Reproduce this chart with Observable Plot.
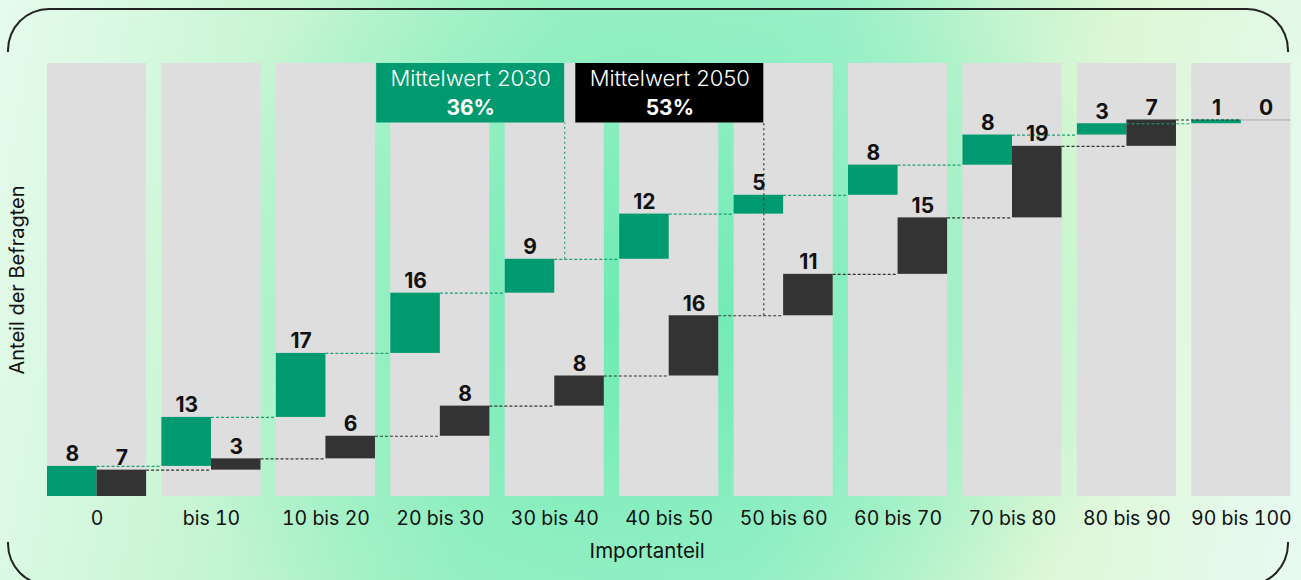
<!DOCTYPE html>
<html>
<head>
<meta charset="utf-8">
<script src="https://cdn.jsdelivr.net/npm/d3@7"></script>
<script src="https://cdn.jsdelivr.net/npm/@observablehq/plot@0.6"></script>
<style>
  html, body { margin: 0; padding: 0; }
  body {
    width: 1301px; height: 580px; overflow: hidden; position: relative;
    font-family: Inter, "Noto Sans", sans-serif;
    background:
      radial-gradient(ellipse 38% 75% at 50% 55%, rgba(104,234,178,0.95) 0%, rgba(125,237,188,0.6) 50%, rgba(170,240,200,0) 100%),
      linear-gradient(100deg, #e6fbec 0%, #c8f5d4 20%, #a0f0c4 40%, #a2f0ca 60%, #dcf7d4 80%, #e8faf2 100%);
  }
  .frame-top, .frame-bottom { position: absolute; box-sizing: border-box; border: 2px solid #222; }
  .frame-top { left: 7px; top: 8px; width: 1282px; height: 44px; border-bottom: none; border-radius: 42px 42px 0 0; }
  .frame-bottom { left: 7px; top: 542px; width: 1282px; height: 44px; border-top: none; border-radius: 0 0 42px 42px; }
  #chart { position: absolute; left: 0; top: 0; }
</style>
</head>
<body>
<div class="frame-top"></div>
<div class="frame-bottom"></div>
<div id="chart"></div>
<script>
// ---- data ----
const categories = ["0", "bis 10", "10 bis 20", "20 bis 30", "30 bis 40", "40 bis 50", "50 bis 60", "60 bis 70", "70 bis 80", "80 bis 90", "90 bis 100"];
const values2030 = [8, 13, 17, 16, 9, 12, 5, 8, 8, 3, 1];
const values2050 = [7, 3, 6, 8, 8, 16, 11, 15, 19, 7, 0];
const meanYears = ["2030", "2050"];
const meanValues = [36, 53];

// ---- layout helpers ----
const hw = 0.433;          // half band width (x units)
const bandTop = 115;       // height of grey background bands (y units)
const boxW = 1.643;        // width of mean label boxes (x units)
const boxBottom = 99.2;

const cumsum = arr => { let s = 0; return arr.map(v => (s += v)); };
const c30 = cumsum(values2030), c50 = cumsum(values2050);
const rows = categories.map((c, i) => ({
  i, c,
  v30: values2030[i], v50: values2050[i],
  lo30: c30[i] - values2030[i], hi30: c30[i],
  lo50: c50[i] - values2050[i], hi50: c50[i]
}));
const links = rows.slice(0, -1);
const means = meanYears.map((yr, k) => {
  const m = meanValues[k];
  const idx = Math.floor(m / 10) + 1;
  const frac = (m % 10) / 10;
  const x = idx - hw + frac * 2 * hw;
  const end = yr === "2030" ? c30[idx] : c50[idx - 1];
  return { yr, m, x, end, fill: yr === "2030" ? "#009a70" : "#000000", stroke: yr === "2030" ? "#1f9e78" : "#333333" };
});

const GREEN = "#009a70", DARK = "#333333";

const chart = Plot.plot({
  width: 1301, height: 580,
  marginLeft: 47, marginRight: 10.6, marginTop: 63, marginBottom: 84,
  x: { type: "linear", domain: [-hw, 10 + hw] },
  y: { domain: [0, bandTop], axis: null },
  color: { type: "identity" },
  style: { fontFamily: "Inter, 'Noto Sans', sans-serif", fontSize: "19px", background: "transparent", color: "#111", overflow: "visible" },
  marks: [
    Plot.rect(rows, { x1: d => d.i - hw, x2: d => d.i + hw, y1: 0, y2: bandTop, fill: "#dedede" }),
    Plot.rect(rows, { x1: d => d.i - hw, x2: d => d.i, y1: "lo30", y2: "hi30", fill: GREEN }),
    Plot.rect(rows.filter(d => d.v50 > 0), { x1: d => d.i, x2: d => d.i + hw, y1: "lo50", y2: "hi50", fill: DARK }),
    Plot.ruleY(rows.filter(d => d.v50 === 0), { x1: d => d.i, x2: d => d.i + hw, y: "hi50", stroke: "#aaaaaa", strokeWidth: 1 }),
    Plot.ruleY(links, { x1: d => d.i, x2: d => d.i + 1 - hw, y: "hi30", stroke: "#1f9e78", strokeWidth: 1.2, strokeDasharray: "3,2" }),
    Plot.ruleY(links, { x1: d => d.i + hw, x2: d => d.i + 1, y: "hi50", stroke: DARK, strokeWidth: 1.2, strokeDasharray: "3,2" }),
    Plot.ruleX(means, { x: "x", y1: "end", y2: boxBottom, stroke: "stroke", strokeWidth: 1.2, strokeDasharray: "2,3" }),
    Plot.rect(means, { x1: d => d.x - boxW, x2: "x", y1: boxBottom, y2: bandTop, fill: "fill" }),
    Plot.text(means, { x: d => d.x - boxW / 2, y: 110.8, text: d => `Mittelwert ${d.yr}`, fill: "white", fontSize: 22, fontWeight: 300 }),
    Plot.text(means, { x: d => d.x - boxW / 2, y: 103.2, text: d => `${d.m}%`, fill: "white", fontSize: 21, fontWeight: 700 }),
    Plot.text(rows, { x: d => d.i - hw / 2, y: "hi30", text: d => String(d.v30), lineAnchor: "bottom", dy: -5, fontSize: 21, fontWeight: 700, fill: "#111" }),
    Plot.text(rows, { x: d => d.i + hw / 2, y: "hi50", text: d => String(d.v50), lineAnchor: "bottom", dy: -5, fontSize: 21, fontWeight: 700, fill: "#111" }),
    Plot.axisX({ ticks: d3.range(categories.length), tickFormat: i => categories[i], tickSize: 0, tickPadding: 15, label: null, fontSize: 19.5, fill: "#111" }),
    Plot.text(["Importanteil"], { frameAnchor: "bottom", lineAnchor: "middle", textAnchor: "middle", dx: -22, dy: 55, fontSize: 20.5, fill: "#111" }),
    Plot.text(["Anteil der Befragten"], { frameAnchor: "left", lineAnchor: "middle", textAnchor: "middle", rotate: -90, dx: -30, fontSize: 20, fill: "#111" })
  ]
});
document.getElementById("chart").appendChild(chart);
</script>
</body>
</html>
